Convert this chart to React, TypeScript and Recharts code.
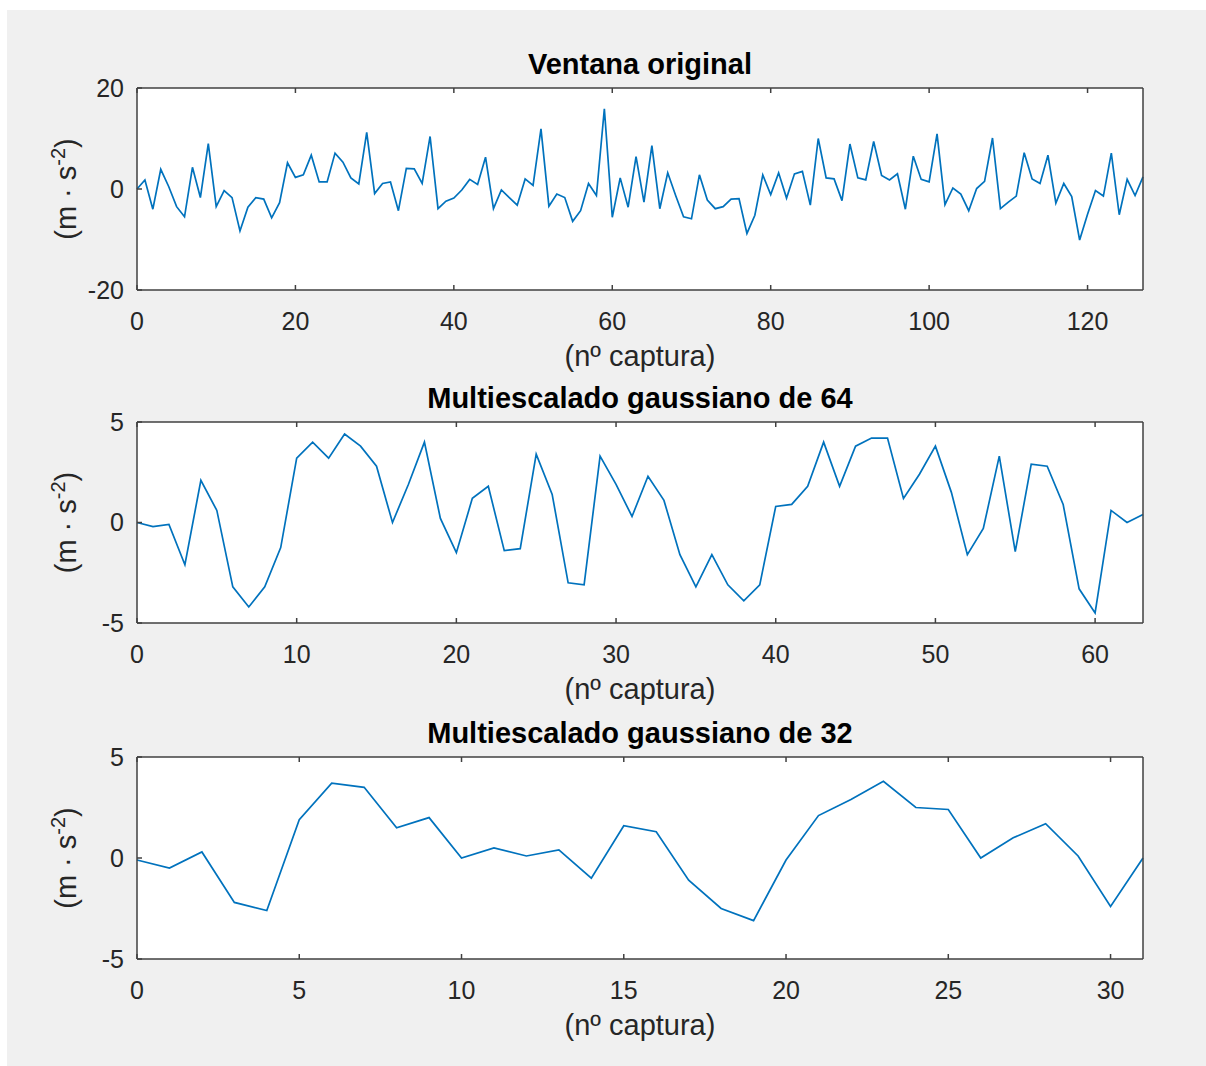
import React from 'react';
import { LineChart, Line, XAxis, YAxis } from 'recharts';

// señal original (128 capturas)
const ventana = [
  0, 1.8, -4.0, 3.9, 0.5, -3.5, -5.5, 4.3, -1.7, 9.0,
  -3.5, -0.3, -1.7, -8.3, -3.6, -1.7, -2.0, -5.7, -2.7, 5.2,
  2.3, 2.8, 6.7, 1.4, 1.4, 7.1, 5.3, 2.2, 1.0, 11.2,
  -0.9, 1.1, 1.4, -4.3, 4.1, 4.0, 1.1, 10.4, -3.9, -2.4,
  -1.8, -0.2, 1.9, 0.9, 6.3, -3.9, -0.2, -1.7, -3.2, 2.0,
  0.7, 11.9, -3.4, -1.0, -1.7, -6.4, -4.3, 1.1, -1.3, 15.9,
  -5.6, 2.2, -3.6, 6.4, -2.6, 8.6, -3.9, 3.2, -1.3, -5.5,
  -5.9, 2.8, -2.2, -3.9, -3.5, -2.0, -1.9, -8.8, -5.2, 2.8,
  -1.1, 3.2, -1.8, 3.0, 3.5, -3.2, 10.0, 2.2, 2.0, -2.3,
  8.9, 2.2, 1.8, 9.4, 2.7, 1.8, 3.0, -4.0, 6.5, 1.9,
  1.4, 10.9, -3.1, 0.2, -1.0, -4.3, 0.1, 1.5, 10.1, -3.9,
  -2.6, -1.4, 7.2, 2.0, 1.1, 6.7, -2.8, 1.1, -1.5, -10.1,
  -5.0, -0.3, -1.4, 7.1, -5.1, 1.9, -1.3, 2.4,
];

const multi64 = [
  0.0, -0.2, -0.1, -2.1, 2.1, 0.6, -3.2, -4.2, -3.2, -1.25,
  3.2, 4.0, 3.2, 4.4, 3.8, 2.8, 0.0, 1.9, 4.0, 0.2,
  -1.5, 1.2, 1.8, -1.4, -1.3, 3.4, 1.4, -3.0, -3.1, 3.3,
  1.9, 0.3, 2.3, 1.1, -1.6, -3.2, -1.6, -3.1, -3.9, -3.1,
  0.8, 0.9, 1.8, 4.0, 1.8, 3.8, 4.2, 4.2, 1.2, 2.4,
  3.8, 1.5, -1.6, -0.3, 3.3, -1.45, 2.9, 2.8, 0.9, -3.3,
  -4.5, 0.6, 0.0, 0.4,
];

const multi32 = [
  -0.1, -0.5, 0.3, -2.2, -2.6, 1.9, 3.7, 3.5, 1.5, 2.0,
  0.0, 0.5, 0.1, 0.4, -1.0, 1.6, 1.3, -1.1, -2.5, -3.1,
  -0.1, 2.1, 2.9, 3.8, 2.5, 2.4, 0.0, 1.0, 1.7, 0.1,
  -2.4, 0.0,
];

const ticks128 = [0, 20, 40, 60, 80, 100, 120];
const ticks64 = [0, 10, 20, 30, 40, 50, 60];
const ticks32 = [0, 5, 10, 15, 20, 25, 30];
const yTicks20 = [-20, 0, 20];
const yTicks5 = [-5, 0, 5];

const FONT = '"Liberation Sans", Arial, Helvetica, sans-serif';
const INK = '#262626';
const AXIS = '#404040';
const W = 1206;
const LEFT = 137;
const RIGHT = 1143;
const TOP = 88;

const TitleLabel = ({ text }: { text: string }) => (
  <text x={(LEFT + RIGHT) / 2} y={TOP - 14} textAnchor="middle" fontFamily={FONT}
    fontSize={29} fontWeight="bold" fill="#000">{text}</text>
);

const XLabel = ({ baseline }: { baseline: number }) => (
  <text x={(LEFT + RIGHT) / 2} y={baseline} textAnchor="middle" fontFamily={FONT}
    fontSize={29} fill={INK}>(nº captura)</text>
);

const YLabel = ({ mid }: { mid: number }) => (
  <text transform={`translate(76, ${mid}) rotate(-90)`} x={0} y={0} textAnchor="middle"
    fontFamily={FONT} fontSize={29} fill={INK}>
    (m · s<tspan dy={-11} fontSize={20}>-2</tspan><tspan dy={11}>)</tspan>
  </text>
);

type PanelProps = {
  values: number[];
  xTicks: number[];
  yTicks: number[];
  yMax: number;
  title: string;
  top: number;
  plotH: number;
};

const Panel = ({ values, xTicks, yTicks, yMax, title, top, plotH }: PanelProps) => {
  const data = values.map((v, i) => ({ x: i, v }));
  const n = values.length - 1;
  const h = TOP + plotH + 90;
  const tickStyle = { fill: INK, fontSize: 25, fontFamily: FONT };
  const line = { stroke: AXIS, strokeWidth: 1.5 };
  return (
    <>
      <div style={{ position: 'absolute', left: LEFT, top: top + TOP, width: RIGHT - LEFT, height: plotH, background: '#ffffff' }} />
      <div style={{ position: 'absolute', left: 0, top, width: W, height: h }}>
        <LineChart width={W} height={h} data={data} margin={{ top: TOP - 1, right: W - RIGHT - 1, bottom: 0, left: 0 }}>
          <XAxis dataKey="x" type="number" domain={[0, n]} ticks={xTicks} interval={0}
            height={90} tickSize={-5} tickMargin={27} tick={tickStyle}
            axisLine={line} tickLine={line} label={<XLabel baseline={TOP + plotH + 76} />} />
          <XAxis xAxisId="top" orientation="top" dataKey="x" type="number" domain={[0, n]}
            ticks={xTicks} interval={0} height={1} tickSize={-5} tickFormatter={() => ''}
            axisLine={line} tickLine={line} label={<TitleLabel text={title} />} />
          <YAxis type="number" domain={[-yMax, yMax]} ticks={yTicks} interval={0} width={LEFT}
            tickSize={-5} tickMargin={18} tick={tickStyle} axisLine={line} tickLine={line}
            label={<YLabel mid={TOP + plotH / 2} />} />
          <YAxis yAxisId="right" orientation="right" type="number" domain={[-yMax, yMax]}
            ticks={yTicks} interval={0} width={1} tickSize={-5} tickFormatter={() => ''}
            axisLine={line} tickLine={line} />
          <Line type="linear" dataKey="v" stroke="#0072BD" strokeWidth={1.7} dot={false}
            isAnimationActive={false} />
        </LineChart>
      </div>
    </>
  );
};

export default function App() {
  return (
    <div style={{ position: 'absolute', left: 0, top: 0, width: W, height: 1066, background: '#ffffff' }}>
      <div style={{ position: 'absolute', left: 7, top: 10, width: W - 7, height: 1056, background: '#f0f0f0' }} />
      <Panel values={ventana} xTicks={ticks128} yTicks={yTicks20} yMax={20}
        title="Ventana original" top={0} plotH={202} />
      <Panel values={multi64} xTicks={ticks64} yTicks={yTicks5} yMax={5}
        title="Multiescalado gaussiano de 64" top={334} plotH={201} />
      <Panel values={multi32} xTicks={ticks32} yTicks={yTicks5} yMax={5}
        title="Multiescalado gaussiano de 32" top={669} plotH={202} />
    </div>
  );
}
